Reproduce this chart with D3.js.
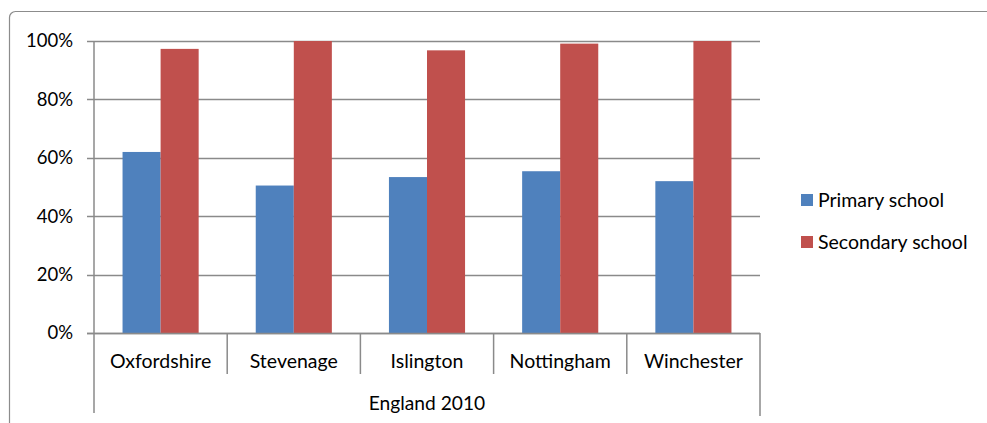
<!DOCTYPE html>
<html>
<head>
<meta charset="utf-8">
<script src="https://cdnjs.cloudflare.com/ajax/libs/d3/7.8.5/d3.min.js"></script>
<style>
  body { margin: 0; background: #fff; }
  text { font-family: Lato, "Open Sans", sans-serif; fill: #000; }
</style>
</head>
<body>
<div id="chart"></div>
<script>
// DATA
const categories = ["Oxfordshire", "Stevenage", "Islington", "Nottingham", "Winchester"]
const seriesNames = ["Primary school", "Secondary school"]
const primary = [0.62, 0.505, 0.534, 0.554, 0.52]
const secondary = [0.973, 1.0, 0.968, 0.991, 1.0]
const yTicks = [0, 0.2, 0.4, 0.6, 0.8, 1.0]
const groupLabel = "England 2010"

const colors = ["#4F81BD", "#C0504D"]
const width = 987, height = 423
const plot = { left: 94, right: 760, top: 41, bottom: 333 }

const svg = d3.select("#chart").append("svg")
    .attr("width", width)
    .attr("height", height)

// outer chart border
svg.append("rect")
    .attr("x", 9.5).attr("y", 11.5)
    .attr("width", 1000).attr("height", 440)
    .attr("rx", 6)
    .attr("fill", "none")
    .attr("stroke", "#8c8c8c")
    .attr("stroke-width", 1.2)

// SCALES
const x0 = d3.scaleBand()
    .domain(categories)
    .range([plot.left, plot.right])
    .paddingInner(0)
    .paddingOuter(0)

const x1 = d3.scaleBand()
    .domain(seriesNames)
    .range([0, x0.bandwidth()])
    .paddingOuter(0.75)
    .paddingInner(0)

const yScale = d3.scaleLinear()
    .domain([0, 1])
    .range([plot.bottom, plot.top])

// GRIDLINES
svg.append("g")
    .selectAll("line")
    .data(yTicks)
    .join("line")
    .attr("x1", plot.left - 7)
    .attr("x2", plot.right)
    .attr("y1", d => Math.round(yScale(d)) + 0.5)
    .attr("y2", d => Math.round(yScale(d)) + 0.5)
    .attr("stroke", "#8a8a8a")
    .attr("stroke-width", 1.5)

// Y LABELS
svg.append("g")
    .selectAll("text")
    .data(yTicks)
    .join("text")
    .attr("x", 73)
    .attr("y", d => yScale(d))
    .attr("dy", "0.35em")
    .attr("text-anchor", "end")
    .attr("font-size", 18.5)
    .text(d3.format(".0%"))

// BARS
const rows = categories.map((c, i) => ({ cat: c, vals: [primary[i], secondary[i]] }))

svg.append("g")
    .selectAll("g")
    .data(rows)
    .join("g")
    .attr("transform", d => `translate(${x0(d.cat)},0)`)
    .selectAll("rect")
    .data(d => d.vals.map((v, j) => ({ name: seriesNames[j], v: v, c: colors[j] })))
    .join("rect")
    .attr("x", d => x1(d.name))
    .attr("width", x1.bandwidth())
    .attr("y", d => yScale(d.v))
    .attr("height", d => yScale(0) - yScale(d.v))
    .attr("fill", d => d.c)

// AXES (drawn over bars)
svg.append("line")
    .attr("x1", plot.left).attr("x2", plot.left)
    .attr("y1", plot.top).attr("y2", 413)
    .attr("stroke", "#8a8a8a").attr("stroke-width", 1.5)

svg.append("line")
    .attr("x1", plot.left - 7).attr("x2", plot.right)
    .attr("y1", Math.round(yScale(0)) + 0.5).attr("y2", Math.round(yScale(0)) + 0.5)
    .attr("stroke", "#8a8a8a").attr("stroke-width", 1.5)

// category separators
svg.append("g")
    .selectAll("line")
    .data(categories.slice(1))
    .join("line")
    .attr("x1", d => x0(d)).attr("x2", d => x0(d))
    .attr("y1", plot.bottom).attr("y2", 374)
    .attr("stroke", "#8a8a8a").attr("stroke-width", 1.5)

svg.append("line")
    .attr("x1", plot.right).attr("x2", plot.right)
    .attr("y1", plot.bottom).attr("y2", 416)
    .attr("stroke", "#8a8a8a").attr("stroke-width", 1.5)

// CATEGORY LABELS
svg.append("g")
    .selectAll("text")
    .data(categories)
    .join("text")
    .attr("x", d => x0(d) + x0.bandwidth() / 2)
    .attr("y", 361)
    .attr("dy", "0.35em")
    .attr("text-anchor", "middle")
    .attr("font-size", 19.5)
    .text(d => d)

svg.append("text")
    .attr("x", (plot.left + plot.right) / 2)
    .attr("y", 403)
    .attr("dy", "0.35em")
    .attr("text-anchor", "middle")
    .attr("font-size", 19.2)
    .text(groupLabel)

// LEGEND
const legend = svg.append("g")
    .selectAll("g")
    .data(seriesNames)
    .join("g")
    .attr("transform", (d, i) => `translate(801, ${200 + i * 42})`)

legend.append("rect")
    .attr("x", 0).attr("y", -6)
    .attr("width", 12).attr("height", 12)
    .attr("fill", (d, i) => colors[i])

legend.append("text")
    .attr("x", 17)
    .attr("y", 0)
    .attr("dy", "0.35em")
    .attr("font-size", 19.5)
    .text(d => d)
</script>
</body>
</html>
